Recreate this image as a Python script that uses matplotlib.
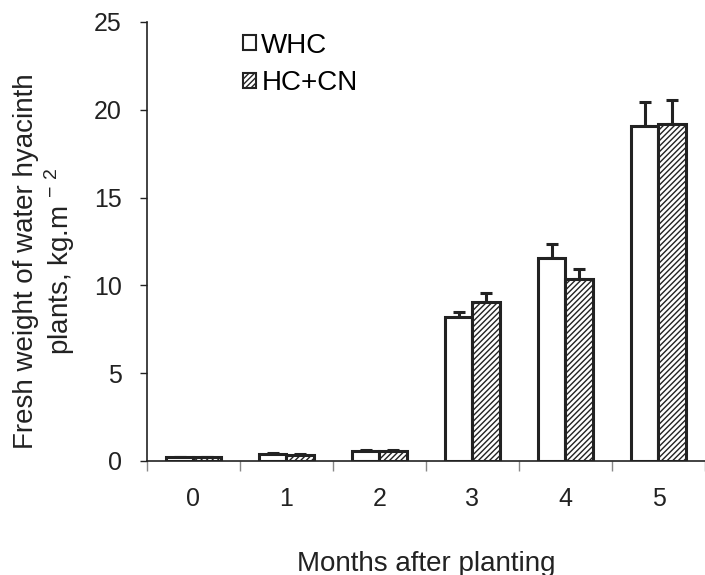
import matplotlib
matplotlib.use("Agg")
from matplotlib import pyplot as plt
import numpy as np

plt.rcParams['font.family'] = ['Liberation Sans', 'DejaVu Sans']
plt.rcParams['hatch.color'] = '#444444'
plt.rcParams['hatch.linewidth'] = 1.0

# data
months = ['0', '1', '2', '3', '4', '5']
whc = [0.2, 0.4, 0.55, 8.2, 11.55, 19.1]
whc_err = [0.05, 0.05, 0.07, 0.3, 0.8, 1.35]
hccn = [0.2, 0.35, 0.55, 9.05, 10.35, 19.2]
hccn_err = [0.05, 0.05, 0.07, 0.5, 0.6, 1.35]

fig = plt.figure(figsize=(7.05, 5.75), dpi=100)
ax = fig.add_axes([0.2085, 0.1983, 0.7915, 0.7635])

x = np.arange(len(months))
w = 0.295
ax.bar(x - w / 2, whc, w, color='white', edgecolor='#222222', linewidth=2.2, label='WHC', zorder=2)
ax.bar(x + w / 2, hccn, w, color='white', edgecolor='#222222', linewidth=2.2, hatch='//////',
       label='HC+CN', zorder=2)
ax.errorbar(x - w / 2, whc, yerr=[np.zeros(len(whc)), whc_err], fmt='none', ecolor='#222222',
            elinewidth=2.2, capsize=4, capthick=2.2, zorder=1)
ax.errorbar(x + w / 2, hccn, yerr=[np.zeros(len(hccn)), hccn_err], fmt='none', ecolor='#222222',
            elinewidth=2.2, capsize=4, capthick=2.2, zorder=1)

ax.set_xlim(-0.5, 5.5)
ax.set_ylim(0, 25)
ax.set_yticks([0, 5, 10, 15, 20, 25])
ax.set_xticks(x)
ax.set_xticklabels(months)
ax.set_xticks(np.arange(-0.5, 6.0, 1.0), minor=True)
ax.tick_params(axis='x', which='major', length=0, labelsize=18, pad=19, colors='#222222')
ax.tick_params(axis='x', which='minor', length=7, width=1, direction='out', color='#888888')
ax.tick_params(axis='y', length=5, width=1, labelsize=18, pad=13, colors='#222222')
for s in ['top', 'right']:
    ax.spines[s].set_visible(False)
for s in ['left', 'bottom']:
    ax.spines[s].set_color('#222222')
    ax.spines[s].set_linewidth(1.2)

ax.set_xlabel('Months after planting', fontsize=20, color='#222222')
ax.xaxis.set_label_coords(0.5, -0.204)
ax.set_ylabel('Fresh weight of water hyacinth\nplants, kg.m $^{\\mathregular{-\\ 2}}$', fontsize=20,
              color='#222222', linespacing=1.15)
ax.yaxis.set_label_coords(-0.125, 0.455)

leg = ax.legend(loc='upper left', bbox_to_anchor=(0.345, 0.943), bbox_transform=fig.transFigure,
                frameon=False, fontsize=20, handlelength=0.45, handleheight=0.45, handletextpad=0.2,
                labelspacing=0.42, borderaxespad=0, borderpad=0)
for p in leg.get_patches():
    p.set_linewidth(1.5)

fig.savefig('out.png', dpi=100)
